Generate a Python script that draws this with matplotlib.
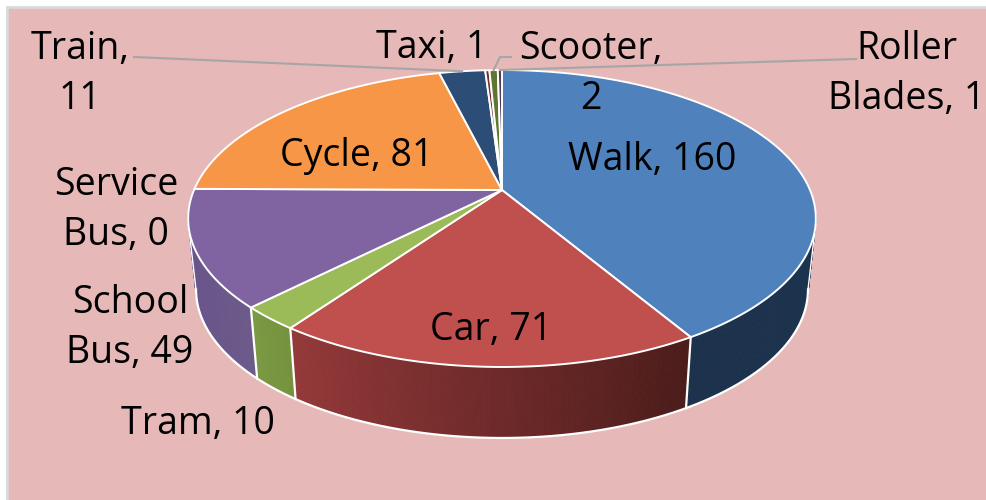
import numpy as np
import matplotlib
matplotlib.use('Agg')
import matplotlib.pyplot as plt
from matplotlib.collections import PolyCollection
from matplotlib.colors import to_rgb

# Chart data
categories = ['Walk', 'Car', 'Tram', 'School Bus', 'Service Bus', 'Cycle', 'Train', 'Taxi', 'Scooter', 'Roller Blades']
values = [160, 71, 10, 49, 0, 81, 11, 1, 2, 1]

# Styles
top_colors = ['#4f81bd', '#c0504d', '#9bbb59', '#8064a2', '#4bacc6', '#f79646', '#2c4d75', '#772c2a', '#5f7530', '#4d3b62']
side_start = ['#1e3550', '#95393a', '#7a9a42', '#69508a', '#33788c', '#ac6830', '#1e3652', '#521e1c', '#425220', '#352944']
side_end = ['#1c324c', '#4a1c1a', '#76923f', '#6b5a8a', '#33788c', '#ac6830', '#1e3652', '#521e1c', '#425220', '#352944']
label_names = ['Walk, ', 'Car, ', 'Tram, ', 'School\nBus, ', 'Service\nBus, ', 'Cycle, ', 'Train,\n', 'Taxi, ', 'Scooter,\n', 'Roller\nBlades, ']
label_x = [652, 491, 198, 130, 116, 357, 80, 432, 591, 907]
label_y = [160, 330, 424, 328, 210, 156, 74, 48, 74, 74]

plt.rcParams['font.family'] = ['Open Sans', 'DejaVu Sans']

W, H = 987, 500
cx, cy = 502, 190
rx, ry_ = 308, 143
persp = 0.192
depth = 71
shrink = 0.975


def project(angle):
    # clockwise from 12 o'clock, with perspective on the depth axis
    u, v = np.sin(angle), np.cos(angle)
    d = 1 + persp * v
    return cx + rx * u / d, cy - ry_ * v / d


def drop(x, y):
    return cx + (x - cx) * shrink, y + depth


fig = plt.figure(figsize=(W / 100, H / 100), dpi=100, facecolor='white')
ax = fig.add_axes([0, 0, 1, 1])
ax.set_xlim(0, W)
ax.set_ylim(H, 0)
ax.axis('off')

# background panel with its grey border
ax.add_patch(plt.Rectangle((7, 7), W, H, facecolor='#e6b8b7', edgecolor='#d9d9d9', lw=2))

edges = np.cumsum([0] + values) / sum(values) * 2 * np.pi

# walls, back ones first
strips, strip_colors, strip_depth = [], [], []
for i in range(len(values)):
    if values[i] == 0:
        continue
    t = np.linspace(edges[i], edges[i + 1], max(int(values[i] * 2), 8))
    a, b = np.array(to_rgb(side_start[i])), np.array(to_rgb(side_end[i]))
    for j in range(len(t) - 1):
        x0, y0 = project(t[j])
        x1, y1 = project(t[j + 1])
        xb0, yb0 = drop(x0, y0)
        xb1, yb1 = drop(x1, y1)
        f = j / (len(t) - 2)
        # walls run right to left on the front side
        strips.append([(x0, y0), (x1, y1), (xb1, yb1), (xb0, yb0)])
        strip_depth.append(np.cos(t[j]))
        strip_colors.append(a + (b - a) * f if i == 0 else b + (a - b) * f)
order = np.argsort(-np.array(strip_depth))
pc = PolyCollection([strips[k] for k in order], facecolors=[strip_colors[k] for k in order],
                    edgecolors=[strip_colors[k] for k in order], linewidths=0.6, zorder=2)
ax.add_collection(pc)

# white outlines of the wall
front = np.linspace(np.pi / 2 + 0.193, 3 * np.pi / 2 - 0.193, 300)
fx, fy = project(front)
bx, by = drop(fx, fy)
ax.plot(bx, by, color='white', lw=1.6, zorder=3)
# silhouette: tangent from the ends of the lower arc up to the top ellipse
rim = np.linspace(np.pi / 2, 3 * np.pi / 2, 400)
rx_pts, ry_pts = project(rim)
for k, side in [(0, 1), (-1, -1)]:
    above = ry_pts < by[k] - 5
    slope = side * (rx_pts - bx[k]) / np.maximum(by[k] - ry_pts, 1)
    slope[~above] = -np.inf
    m = np.argmax(slope)
    ax.plot([bx[k], rx_pts[m]], [by[k], ry_pts[m]], color='white', lw=1.0, zorder=3)
for i in range(len(values)):
    if np.pi / 2 < edges[i + 1] < 3 * np.pi / 2 - 0.193:
        x0, y0 = project(edges[i + 1])
        xb, yb = drop(x0, y0)
        ax.plot([x0, xb], [y0, yb], color='white', lw=1.6, zorder=3)

# top surface
for i in range(len(values)):
    if values[i] == 0:
        continue
    t = np.linspace(edges[i], edges[i + 1], max(int(values[i] * 2), 8))
    x, y = project(t)
    pts = np.column_stack([np.r_[cx, x], np.r_[cy, y]])
    ax.add_patch(plt.Polygon(pts, closed=True, facecolor=top_colors[i], edgecolor='white', lw=1.4,
                             joinstyle='round', zorder=4))

# leader lines
mid = (edges[:-1] + edges[1:]) / 2
line_c = '#a6a6a6'
tx, ty = project(mid[6])
ax.plot([134, tx], [57, ty], color=line_c, lw=1.5, zorder=5)
sx, sy = project(mid[8])
ax.plot([511, 500, sx], [57, 57, sy], color=line_c, lw=1.5, zorder=5)
rbx, rby = project(mid[9])
ax.plot([rbx, 856], [rby, 59], color=line_c, lw=1.5, zorder=5)

# data labels
for i in range(len(values)):
    ax.text(label_x[i], label_y[i], f'{label_names[i]}{values[i]}', ha='center', va='center',
            fontsize=27, color='black', linespacing=1.42, zorder=6, clip_on=True)

fig.savefig('out.png', dpi=100, facecolor='white')
